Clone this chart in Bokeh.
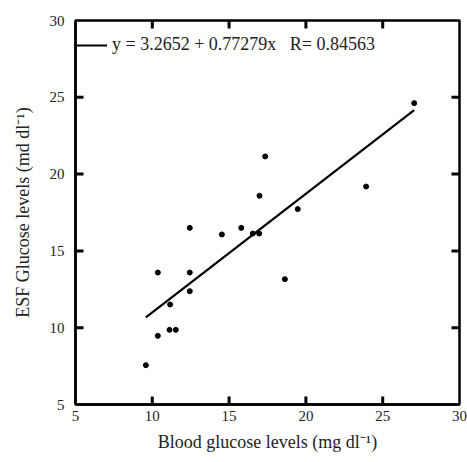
from bokeh.plotting import figure
from bokeh.models import Range1d, Legend, LegendItem, FixedTicker
from bokeh.embed import file_html
from bokeh.resources import INLINE

blood_glucose = [9.58, 10.36, 10.36, 11.12, 11.53, 11.16, 12.44, 12.44, 12.44, 14.53,
                 15.79, 16.54, 16.96, 18.63, 19.47, 27.05, 17.35, 16.98, 23.92]
esf_glucose = [7.56, 9.47, 13.59, 9.86, 9.86, 11.51, 12.38, 13.59, 16.5, 16.07,
               16.5, 16.13, 16.13, 13.16, 17.72, 24.62, 21.15, 18.59, 19.19]
intercept = 3.2652
slope = 0.77279
r_value = 0.84563
ticks = [5, 10, 15, 20, 25, 30]

FONT = "Liberation Serif"
LO, HI = 5, 30
W, H = 467, 462
BL, BR, BT, BB = 75, 8, 20, 58

p = figure(width=W, height=H, output_backend="svg", toolbar_location=None,
           x_range=Range1d(LO, HI), y_range=Range1d(LO, HI),
           min_border_left=BL, min_border_right=BR, min_border_top=BT, min_border_bottom=BB)
p.xgrid.visible = False
p.ygrid.visible = False
p.outline_line_color = "black"
p.outline_line_width = 2.5

for ax in (p.xaxis[0], p.yaxis[0]):
    ax.ticker = FixedTicker(ticks=ticks)
    ax.major_tick_in = 0
    ax.major_tick_out = 0
    ax.minor_tick_line_color = None
    ax.axis_line_width = 2.5
    ax.major_label_text_font = FONT
    ax.major_label_text_font_size = "15px"
    ax.major_label_text_color = "#222222"
    ax.axis_label_text_font = FONT
    ax.axis_label_text_font_size = "18px"
    ax.axis_label_text_font_style = "normal"
    ax.axis_label_text_color = "#222222"

p.xaxis[0].major_label_standoff = 6
p.yaxis[0].major_label_standoff = 11
p.xaxis[0].axis_label = "Blood glucose levels (mg dl\u207b\u00b9)"
p.yaxis[0].axis_label = "ESF Glucose levels (md dl\u207b\u00b9)"
p.xaxis[0].axis_label_standoff = 8
p.yaxis[0].axis_label_standoff = 14

# inward tick marks on all four sides
tick_px = 8
tx = tick_px * (HI - LO) / (W - BL - BR)
ty = tick_px * (HI - LO) / (H - BT - BB)
inner = ticks[1:-1]
n = len(inner)
seg_kw = dict(line_color="black", line_width=3)
p.segment(x0=inner, y0=[LO] * n, x1=inner, y1=[LO + ty] * n, **seg_kw)
p.segment(x0=inner, y0=[HI] * n, x1=inner, y1=[HI - ty] * n, **seg_kw)
p.segment(x0=[LO] * n, y0=inner, x1=[LO + tx] * n, y1=inner, **seg_kw)
p.segment(x0=[HI] * n, y0=inner, x1=[HI - tx] * n, y1=inner, **seg_kw)

x0, x1 = min(blood_glucose), max(blood_glucose)
fit = p.line([x0, x1], [intercept + slope * x0, intercept + slope * x1],
             line_color="black", line_width=2.2)
p.scatter(blood_glucose, esf_glucose, size=5, color="black")

label = f"y = {intercept} + {slope}x   R= {r_value}"
legend = Legend(items=[LegendItem(label=label, renderers=[fit])],
                location=(-4, 349), border_line_color=None, background_fill_alpha=0,
                padding=0, margin=0, glyph_width=36, glyph_height=20, label_standoff=5,
                label_text_font=FONT, label_text_font_size="18px", label_text_color="#222222")
p.add_layout(legend)

open("out.html", "w").write(file_html(p, INLINE))
